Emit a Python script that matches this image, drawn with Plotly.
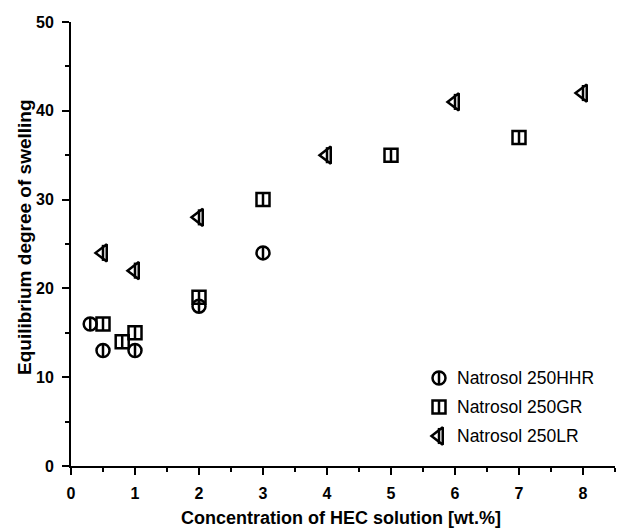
import plotly.graph_objects as go

# ---- data ----
hhr_x = [0.3, 0.5, 1.0, 2.0, 3.0]
hhr_y = [16, 13, 13, 18, 24]
gr_x = [0.5, 0.8, 1.0, 2.0, 3.0, 5.0, 7.0]
gr_y = [16, 14, 15, 19, 30, 35, 37]
lr_x = [0.5, 1.0, 2.0, 4.0, 6.0, 8.0]
lr_y = [24, 22, 28, 35, 41, 42]
series_names = ["Natrosol 250HHR", "Natrosol 250GR", "Natrosol 250LR"]
x_ticks = [0, 1, 2, 3, 4, 5, 6, 7, 8]
y_ticks = [0, 10, 20, 30, 40, 50]

FONT = "Liberation Sans, Arial, sans-serif"
W, H = 617, 529
L, R, T, B = 71, 2, 22, 63
LW = 2.5

fig = go.Figure()

def add_series(x, y, sym, size, line_size, xa="x", ya="y"):
    fig.add_trace(go.Scatter(x=x, y=y, mode="markers", xaxis=xa, yaxis=ya,
                             showlegend=False, cliponaxis=False,
                             marker=dict(symbol=sym, size=size, color="black",
                                         line=dict(color="black", width=LW))))
    fig.add_trace(go.Scatter(x=x, y=y, mode="markers", xaxis=xa, yaxis=ya,
                             showlegend=False, cliponaxis=False,
                             marker=dict(symbol="line-ns-open", size=line_size, color="black",
                                         line=dict(color="black", width=LW))))

styles = [("circle-open", 13, 9.3), ("square-open", 13, 9.3), ("triangle-left-open", 15, 11.5)]

for (sym, sz, lsz), xs, ys in zip(styles, [hhr_x, gr_x, lr_x], [hhr_y, gr_y, lr_y]):
    add_series(xs, ys, sym, sz, lsz)

# ---- custom legend on a pixel-scaled overlay axis ----
leg_mx = 439
leg_tx = 455
leg_ys = [378, 407, 436]
for (sym, sz, lsz), ly, nm in zip(styles, leg_ys, series_names):
    add_series([leg_mx], [ly], sym, sz, lsz, xa="x2", ya="y2")
    fig.add_annotation(x=leg_tx, y=ly, xref="x2", yref="y2", text=nm,
                       showarrow=False, xanchor="left", yanchor="middle",
                       font=dict(family=FONT, size=17.5, color="black"))

axis_common = dict(showgrid=False, zeroline=False, showline=True, linecolor="black",
                   linewidth=2, ticks="outside", ticklen=7, tickwidth=2,
                   tickcolor="black",
                   tickfont=dict(family=FONT, size=16, color="black", weight="bold"))

fig.update_layout(
    width=W, height=H,
    margin=dict(l=L, r=R, t=T, b=B),
    paper_bgcolor="white", plot_bgcolor="white",
    showlegend=False,
    xaxis=dict(range=[0, 8.5], tickvals=x_ticks,
               minor=dict(dtick=0.5, tick0=0, ticks="outside", ticklen=4,
                          tickwidth=2, tickcolor="black"),
               ticklabelstandoff=5, **axis_common),
    yaxis=dict(range=[0, 50], tickvals=y_ticks,
               minor=dict(dtick=5, tick0=0, ticks="outside", ticklen=4,
                          tickwidth=2, tickcolor="black"),
               ticklabelstandoff=5, **axis_common),
    xaxis2=dict(range=[L, W - R], overlaying="x", visible=False, fixedrange=True),
    yaxis2=dict(range=[H - B, T], overlaying="y", visible=False, fixedrange=True),
)

plot_w = W - L - R
plot_h = H - T - B
fig.add_annotation(text="Concentration of HEC solution [wt.%]",
                   x=(341 - L) / plot_w, y=(H - B - 518) / plot_h,
                   xref="paper", yref="paper", showarrow=False,
                   xanchor="center", yanchor="middle",
                   font=dict(family=FONT, size=18, color="black", weight="bold"))
fig.add_annotation(text="Equilibrium degree of swelling",
                   x=(24 - L) / plot_w, y=(H - B - 237) / plot_h,
                   xref="paper", yref="paper", showarrow=False, textangle=-90,
                   xanchor="center", yanchor="middle",
                   font=dict(family=FONT, size=19, color="black", weight="bold"))

fig.write_html("out.html")
